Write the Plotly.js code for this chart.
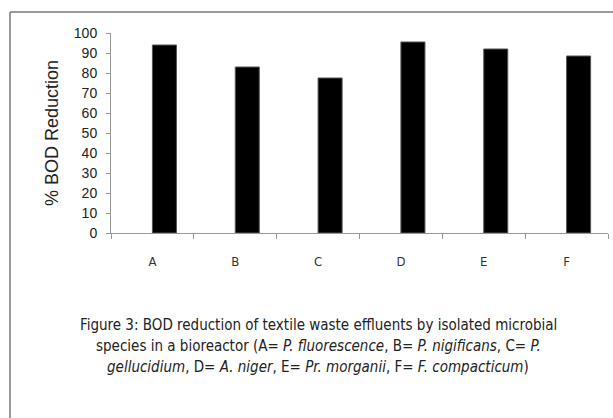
<!DOCTYPE html>
<html>
<head>
<meta charset="utf-8">
<script src="https://cdn.plot.ly/plotly-3.0.1.min.js"></script>
<style>html,body{margin:0;padding:0;background:#fff;}#chart{width:613px;height:418px;}</style>
</head>
<body>
<div id="chart"></div>
<script>
var categories = ["A", "B", "C", "D", "E", "F"];
var bodReduction = [94, 83, 77.5, 95.5, 92, 88.5];
var yTicks = [0, 10, 20, 30, 40, 50, 60, 70, 80, 90, 100];
var yTitle = "% BOD Reduction";
var captionLines = [
  "Figure 3: BOD reduction of textile waste effluents by isolated microbial",
  "species in a bioreactor (A= <i>P. fluorescence</i>, B= <i>P. nigificans</i>, C= <i>P.</i>",
  "<i>gellucidium</i>, D= <i>A. niger</i>, E= <i>Pr. morganii</i>, F= <i>F. compacticum</i>)"
];

var capFont = {family: "DejaVu Sans Condensed, sans-serif", size: 15, color: "#222"};
var annotations = captionLines.map(function (t, i) {
  return {
    text: t, xref: "paper", yref: "paper", x: 0.4165, y: -0.46 - i * 0.105,
    xanchor: "center", yanchor: "middle", showarrow: false, font: capFont
  };
});

var trace = {
  type: "bar",
  x: categories,
  y: bodReduction,
  width: 0.29,
  offset: 0,
  marker: {color: "#000", line: {color: "#555", width: 1}},
  hoverinfo: "x+y"
};

var layout = {
  width: 613, height: 418,
  margin: {l: 111, r: 5, t: 33, b: 185},
  paper_bgcolor: "#fff", plot_bgcolor: "#fff",
  showlegend: false,
  bargap: 0,
  xaxis: {
    type: "category",
    range: [-0.5, 5.5],
    showgrid: false, zeroline: false,
    showline: true, linecolor: "#999", linewidth: 1,
    ticks: "outside", ticklen: 5, tickcolor: "#999",
    tickson: "boundaries",
    tickfont: {family: "DejaVu Sans Condensed, sans-serif", size: 13, color: "#333"},
    ticklabelstandoff: 16
  },
  yaxis: {
    range: [0, 100],
    tickvals: yTicks,
    showgrid: false, zeroline: false,
    showline: true, linecolor: "#999", linewidth: 1,
    ticks: "outside", ticklen: 4, tickcolor: "#999",
    tickfont: {family: "Liberation Sans, Arial, sans-serif", size: 14, color: "#222"},
    ticklabelstandoff: 6,
    title: {text: yTitle, font: {family: "Liberation Sans, Arial, sans-serif", size: 18, color: "#222"}, standoff: 10}
  },
  annotations: annotations,
  shapes: [
    {type: "line", xref: "paper", yref: "paper", x0: -0.2032, x1: 1.03, y0: 1.105, y1: 1.105, line: {color: "#999", width: 2}},
    {type: "line", xref: "paper", yref: "paper", x0: -0.2032, x1: -0.2032, y0: 1.105, y1: -0.95, line: {color: "#999", width: 2}}
  ]
};

Plotly.newPlot("chart", [trace], layout, {displayModeBar: false, staticPlot: true});
</script>
</body>
</html>
